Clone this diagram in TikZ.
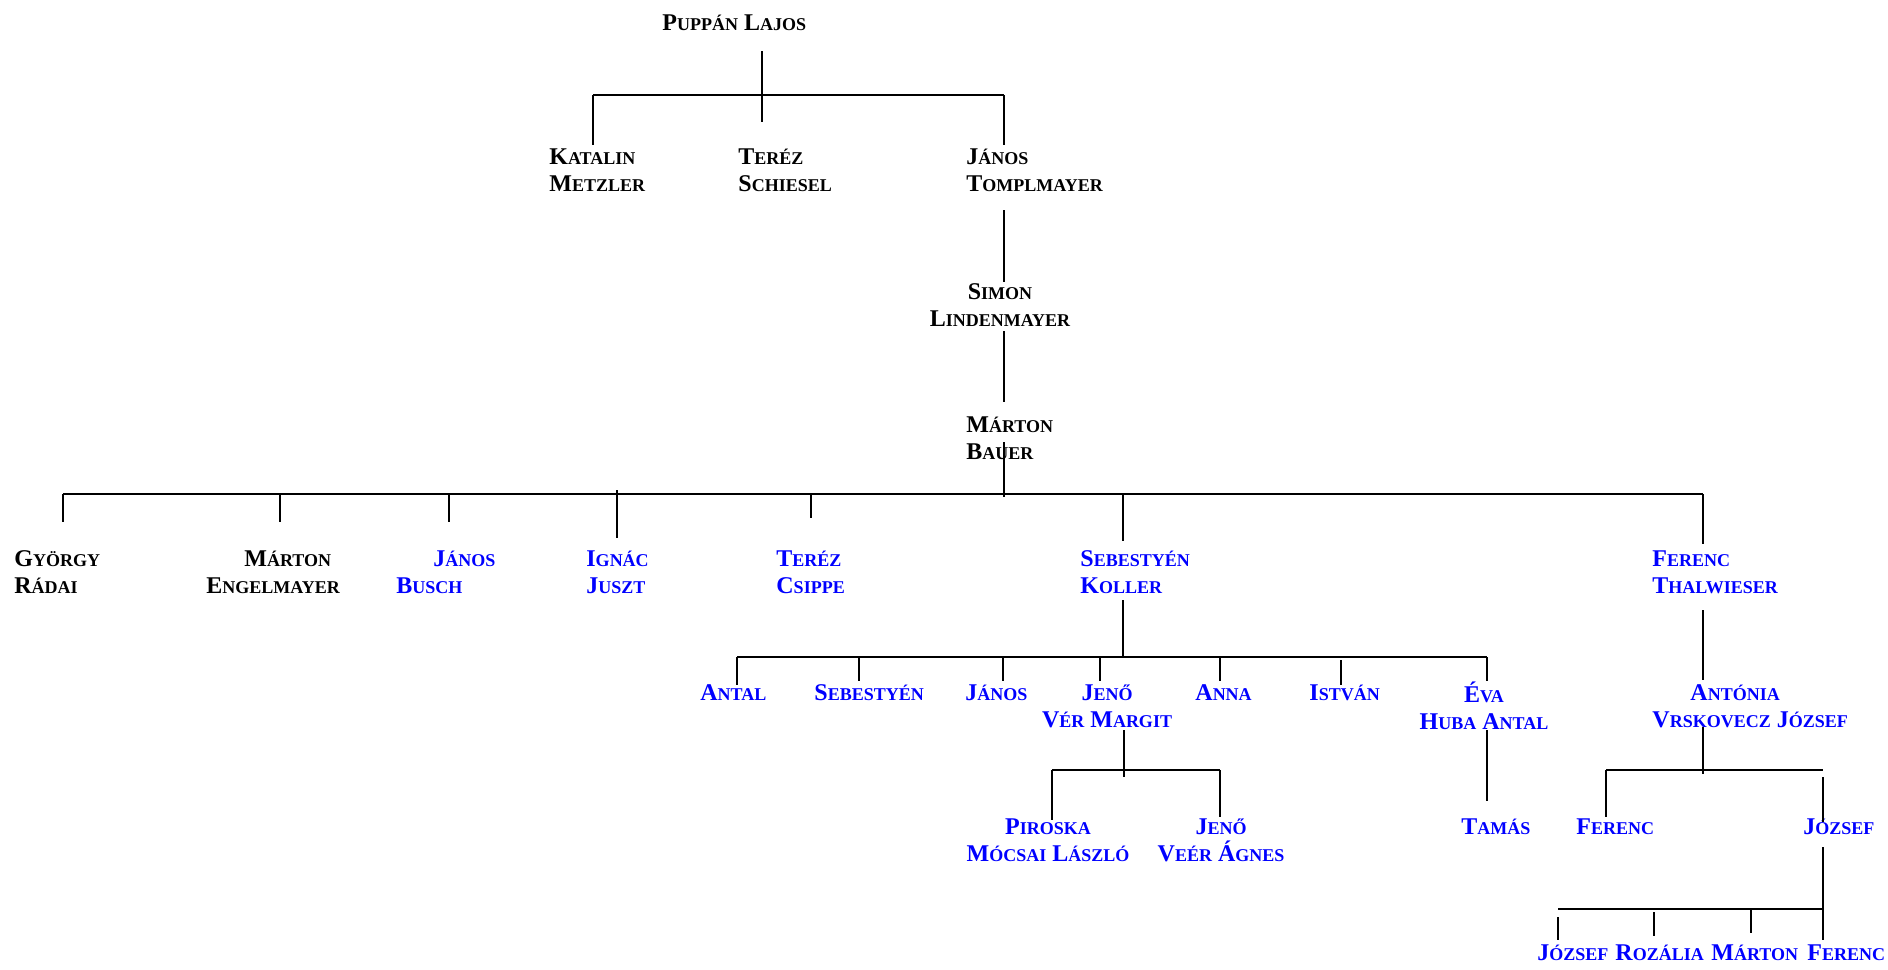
\documentclass[tikz,border=0pt]{standalone}
\usepackage{fontspec}
\setmainfont{Liberation Serif}
\newcommand\nm[2]{#1{\fontsize{9}{13.5}\selectfont #2}}
\tikzset{
  nev/.style={font=\bfseries\fontsize{12}{13.5}\selectfont, inner sep=0pt, anchor=west, align=left},
  kek/.style={nev, text=blue},
  balken/.style={line width=1.3pt},
  strich/.style={line width=0.9pt}
}
\begin{document}
\begin{tikzpicture}[x=0.5pt,y=-0.5pt]
    \useasboundingbox (0,0) rectangle (1888,969);
    % Vorfahren
    \node[nev] (puppan) at (662,23) {\nm{P}{UPPÁN} \nm{L}{AJOS}};
    \node[nev] (katalin) at (549,170) {\nm{K}{ATALIN}\\\nm{M}{ETZLER}};
    \node[nev] (terez) at (738,170) {\nm{T}{ERÉZ}\\\nm{S}{CHIESEL}};
    \node[nev] (janosT) at (966,170) {\nm{J}{ÁNOS}\\\nm{T}{OMPLMAYER}};
    \node[nev, anchor=center, align=center] (simon) at (1000,305) {\nm{S}{IMON}\\\nm{L}{INDENMAYER}};
    \node[nev] (marton) at (966,438) {\nm{M}{ÁRTON}\\\nm{B}{AUER}};
    % Kinder
    \node[nev] (gyorgy) at (14,572) {\nm{G}{YÖRGY}\\\nm{R}{ÁDAI}};
    \node[nev] (martonE) at (206,572) {\hspace*{19pt}\nm{M}{ÁRTON}\\\nm{E}{NGELMAYER}};
    \node[kek] (janosB) at (396,572) {\hspace*{18.5pt}\nm{J}{ÁNOS}\\\nm{B}{USCH}};
    \node[kek] (ignac) at (586,572) {\nm{I}{GNÁC}\\\nm{J}{USZT}};
    \node[kek] (terezC) at (776,572) {\nm{T}{ERÉZ}\\\nm{C}{SIPPE}};
    \node[kek] (sebestyen) at (1080,572) {\nm{S}{EBESTYÉN}\\\nm{K}{OLLER}};
    \node[kek] (ferencT) at (1652,572) {\nm{F}{ERENC}\\\nm{T}{HALWIESER}};
    % Enkel
    \node[kek] (antal) at (700,693) {\nm{A}{NTAL}};
    \node[kek] (sebestyen2) at (814,693) {\nm{S}{EBESTYÉN}};
    \node[kek] (janos2) at (965,693) {\nm{J}{ÁNOS}};
    \node[kek, anchor=center, align=center] (jeno) at (1107,706) {\nm{J}{ENŐ}\\\nm{V}{ÉR} \nm{M}{ARGIT}};
    \node[kek] (anna) at (1195,693) {\nm{A}{NNA}};
    \node[kek] (istvan) at (1309,693) {\nm{I}{STVÁN}};
    \node[kek, anchor=center, align=center] (eva) at (1484,706) {\nm{É}{VA}\\\nm{H}{UBA} \nm{A}{NTAL}};
    \node[kek] (antonia) at (1652,706) {\hspace*{19pt}\nm{A}{NTÓNIA}\\\nm{V}{RSKOVECZ} \nm{J}{ÓZSEF}};
    % Urenkel
    \node[kek, anchor=center, align=center] (piroska) at (1048,840) {\nm{P}{IROSKA}\\\nm{M}{ÓCSAI} \nm{L}{ÁSZLÓ}};
    \node[kek, anchor=center, align=center] (jeno2) at (1221,840) {\nm{J}{ENŐ}\\\nm{V}{EÉR} \nm{Á}{GNES}};
    \node[kek] (tamas) at (1461,827) {\nm{T}{AMÁS}};
    \node[kek] (ferenc2) at (1576,827) {\nm{F}{ERENC}};
    \node[kek] (jozsef2) at (1803,827) {\nm{J}{ÓZSEF}};
    \node[kek] (jozsef3) at (1537,953) {\nm{J}{ÓZSEF}};
    \node[kek] (rozalia) at (1615,953) {\nm{R}{OZÁLIA}};
    \node[kek] (marton3) at (1711,953) {\nm{M}{ÁRTON}};
    \node[kek] (ferenc3) at (1807,953) {\nm{F}{ERENC}};
    % Balken
    \foreach \n/\xa/\xb/\y in {A/593/1004/95, B/63/1703/494, C/737/1487/657,
        D/1052/1220/770, E/1606/1823/770, F/1558/1823/909}
    {
        \coordinate (\n l) at (\xa,\y);
        \coordinate (\n r) at (\xb,\y);
        \draw[balken] (\n l) -- (\n r);
    }
    % Striche
    \foreach \n/\x/\ya/\yb in {root/762/51/122, katD/593/95/145, janD/1004/95/145,
        tomD/1004/210/282, simD/1004/331/402, bauD/1004/442/497,
        gyoD/63/494/522, marD/280/494/522, busD/449/494/522, ignD/617/490/538,
        csiD/811/494/518, kolD/1123/494/541, thaD/1703/494/544,
        kolT/1123/600/657, antD/737/657/685, sebD/859/657/681, jnsD/1003/657/681,
        jenD/1100/657/681, annD/1220/657/681, istD/1341/660/685, evaD/1487/657/681,
        verT/1124/730/777, pirD/1052/770/820, veeD/1220/770/817, hubD/1487/730/801,
        vrsT/1703/610/680, vrsD/1703/727/774, ferD/1606/770/817, jozD/1823/777/822,
        jozT/1823/847/909, jaD/1558/917/940, roD/1654/912/936, maD/1751/910/933,
        feD/1823/909/940}
    {
        \coordinate (\n o) at (\x,\ya);
        \coordinate (\n u) at (\x,\yb);
        \draw[strich] (\n o) -- (\n u);
    }
\end{tikzpicture}
\end{document}
